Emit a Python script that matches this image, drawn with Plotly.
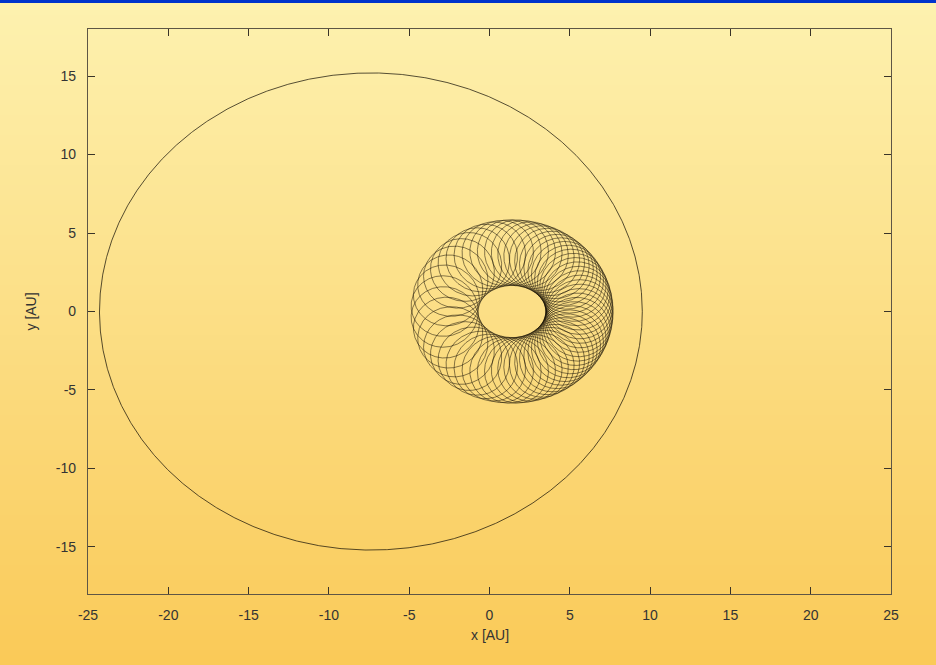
import numpy as np
import plotly.graph_objects as go

# Figure geometry
W, H = 936, 665
ML, MR, MT, MB = 88, 45, 29, 71

# Axis ticks
x_ticks = [-25, -20, -15, -10, -5, 0, 5, 10, 15, 20, 25]
y_ticks = [-15, -10, -5, 0, 5, 10, 15]
x_range = [-25, 25]
y_range = [-18, 18]

# Outer companion orbit (focus at origin): semi-major axis [AU], eccentricity
outer_a = [16.9]
outer_e = [0.437]

# Inner looping path: guiding-centre ellipse (centre x, semi-axes),
# eccentricity for the timing, epicycle radius and number of loops
inner_center = [1.4, 0.0]
inner_axes = [4.2, 3.75]
inner_e = [0.42]
inner_r = [2.1]
inner_loops = [58]

# Outer orbit curve
a, e = outer_a[0], outer_e[0]
b = a * np.sqrt(1 - e ** 2)
E = np.linspace(0, 2 * np.pi, 1500)
ox = a * (np.cos(E) - e)
oy = b * np.sin(E)

# Inner looping curve: eccentric anomaly sampled uniformly, mean anomaly drives the loops
E2 = np.linspace(0, 2 * np.pi, 40000)
M2 = E2 - inner_e[0] * np.sin(E2)
ix = inner_center[0] - inner_axes[0] * np.cos(E2) + inner_r[0] * np.cos(inner_loops[0] * M2)
iy = inner_center[1] + inner_axes[1] * np.sin(E2) + inner_r[0] * np.sin(inner_loops[0] * M2)

fig = go.Figure()
fig.add_trace(go.Scatter(x=ox, y=oy, mode="lines",
                         line=dict(color="rgba(20,15,5,0.9)", width=0.8),
                         hoverinfo="skip", showlegend=False))
fig.add_trace(go.Scatter(x=ix, y=iy, mode="lines",
                         line=dict(color="rgba(15,10,0,0.85)", width=0.6),
                         hoverinfo="skip", showlegend=False))

# Vertical background gradient drawn as thin strips across the whole page
pw, ph = W - ML - MR, H - MT - MB
top_rgb = np.array([254, 242, 176])
bot_rgb = np.array([250, 202, 88])
shapes = []
step = 5
for y0 in range(0, H, step):
    t = (y0 + step / 2) / H
    c = (1 - t) * top_rgb + t * bot_rgb
    shapes.append(dict(
        type="rect", xref="paper", yref="paper", layer="below",
        x0=-ML / pw, x1=1 + MR / pw,
        y0=1 + MT / ph - (y0 + step + 0.5) / ph, y1=1 + MT / ph - y0 / ph,
        fillcolor=f"rgb({int(c[0])},{int(c[1])},{int(c[2])})",
        line=dict(width=0)))
# Blue band along the top edge
shapes.append(dict(type="rect", xref="paper", yref="paper", layer="above",
                   x0=-ML / pw, x1=1 + MR / pw,
                   y0=1 + (MT - 3) / ph, y1=1 + MT / ph,
                   fillcolor="#0033cc", line=dict(width=0)))

axis_common = dict(
    showgrid=False, zeroline=False,
    showline=True, linecolor="#5e5645", linewidth=1.2, mirror="allticks",
    ticks="inside", ticklen=7, tickwidth=1, tickcolor="#3a3428",
    tickfont=dict(family="Liberation Sans, Arial, sans-serif", size=14, color="#333333"),
    ticklabelstandoff=8,
)

fig.update_layout(
    width=W, height=H,
    margin=dict(l=ML, r=MR, t=MT, b=MB),
    paper_bgcolor="rgba(0,0,0,0)", plot_bgcolor="rgba(0,0,0,0)",
    shapes=shapes,
    xaxis=dict(range=x_range, tickvals=x_ticks, ticktext=[str(v) for v in x_ticks], **axis_common),
    yaxis=dict(range=y_range, tickvals=y_ticks, ticktext=[str(v) for v in y_ticks], **axis_common),
    annotations=[
        dict(text="x [AU]", xref="paper", yref="paper", x=0.5, y=-41 / ph,
             xanchor="center", yanchor="middle", showarrow=False,
             font=dict(family="Liberation Sans, Arial, sans-serif", size=14, color="#333333")),
        dict(text="y [AU]", xref="paper", yref="paper", x=-58 / pw, y=0.5,
             xanchor="center", yanchor="middle", showarrow=False, textangle=-90,
             font=dict(family="Liberation Sans, Arial, sans-serif", size=14, color="#333333")),
    ],
)

fig.write_html("out.html")
